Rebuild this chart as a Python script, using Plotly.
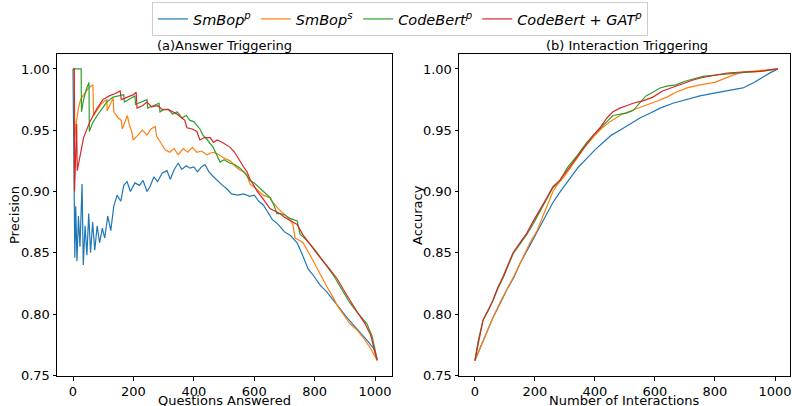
import plotly.graph_objects as go

# ---------------- Data: (a) Answer Triggering ----------------
ans_blue_x = [0, 3, 6, 9, 13, 18, 23, 30, 34, 40, 46, 52, 58, 65, 72, 80, 88, 97, 105, 115, 125, 135, 146, 158, 168, 179, 190, 205, 220, 232, 245, 255, 268, 280, 295, 311, 322, 335, 348, 360, 375, 387, 400, 412, 425, 437, 450, 465, 477, 495, 510, 525, 545, 565, 585, 600, 615, 630, 645, 660, 680, 700, 720, 742, 760, 778, 800, 818, 840, 861, 885, 907, 930, 950, 975, 995, 1007]
ans_blue_y = [1.0, 0.89, 0.846, 0.888, 0.843, 0.88, 0.855, 0.906, 0.84, 0.872, 0.848, 0.882, 0.85, 0.875, 0.852, 0.872, 0.858, 0.87, 0.862, 0.88, 0.868, 0.888, 0.897, 0.892, 0.905, 0.908, 0.9, 0.907, 0.905, 0.909, 0.9, 0.904, 0.912, 0.908, 0.915, 0.917, 0.91, 0.918, 0.923, 0.918, 0.921, 0.919, 0.92, 0.916, 0.92, 0.922, 0.916, 0.912, 0.909, 0.905, 0.902, 0.898, 0.897, 0.898, 0.896, 0.897, 0.892, 0.889, 0.883, 0.877, 0.873, 0.867, 0.864, 0.858, 0.848, 0.837, 0.83, 0.8235, 0.818, 0.811, 0.804, 0.797, 0.791, 0.785, 0.778, 0.772, 0.763]

ans_orange_x = [0, 4, 6, 10, 18, 25, 30, 40, 50, 60, 66, 68, 80, 95, 112, 113, 125, 133, 135, 150, 160, 163, 180, 186, 195, 199, 215, 230, 245, 258, 272, 277, 290, 305, 320, 335, 348, 365, 380, 395, 410, 425, 444, 460, 477, 495, 520, 535, 550, 565, 576, 586, 603, 615, 629, 652, 662, 679, 695, 718, 728, 735, 750, 762, 785, 808, 825, 841, 860, 877, 897, 917, 940, 960, 985, 1007]
ans_orange_y = [1.0, 1.0, 0.944, 0.955, 0.968, 0.975, 0.977, 0.981, 0.984, 0.986, 0.987, 0.962, 0.966, 0.972, 0.975, 0.966, 0.972, 0.976, 0.965, 0.96, 0.958, 0.951, 0.962, 0.955, 0.948, 0.942, 0.946, 0.95, 0.946, 0.951, 0.953, 0.945, 0.94, 0.934, 0.932, 0.935, 0.93, 0.935, 0.932, 0.936, 0.932, 0.933, 0.93, 0.932, 0.931, 0.928, 0.925, 0.921, 0.918, 0.916, 0.913, 0.906, 0.903, 0.9, 0.897, 0.895, 0.891, 0.886, 0.882, 0.877, 0.873, 0.862, 0.86, 0.858, 0.848, 0.837, 0.83, 0.822, 0.814, 0.806, 0.799, 0.792, 0.787, 0.781, 0.772, 0.762]

ans_green_x = [0, 27, 28, 35, 45, 53, 54, 65, 80, 97, 112, 133, 150, 168, 170, 190, 205, 207, 225, 245, 247, 265, 285, 288, 300, 315, 330, 345, 360, 375, 387, 400, 410, 420, 430, 445, 464, 475, 487, 500, 520, 535, 553, 570, 586, 600, 619, 635, 652, 665, 675, 685, 700, 718, 742, 752, 762, 785, 808, 835, 861, 890, 917, 945, 973, 990, 1007]
ans_green_y = [1.0, 1.0, 0.965, 0.975, 0.984, 0.989, 0.949, 0.956, 0.962, 0.968, 0.973, 0.977, 0.978, 0.979, 0.973, 0.976, 0.978, 0.971, 0.973, 0.975, 0.968, 0.97, 0.972, 0.965, 0.967, 0.967, 0.963, 0.965, 0.96, 0.962, 0.958, 0.957, 0.954, 0.951, 0.946, 0.942, 0.936, 0.93, 0.924, 0.926, 0.923, 0.922, 0.919, 0.915, 0.909, 0.907, 0.903, 0.899, 0.895, 0.889, 0.882, 0.882, 0.881, 0.878, 0.876, 0.865, 0.863, 0.857, 0.85, 0.841, 0.832, 0.82, 0.809, 0.8, 0.792, 0.782, 0.763]

ans_red_x = [0, 4, 5, 8, 10, 12, 14, 23, 35, 56, 66, 80, 99, 120, 140, 156, 160, 180, 200, 209, 212, 230, 245, 260, 280, 298, 315, 330, 345, 361, 370, 377, 395, 410, 420, 435, 454, 465, 477, 495, 510, 520, 535, 545, 553, 565, 576, 586, 596, 610, 629, 640, 652, 668, 685, 700, 720, 742, 760, 775, 795, 818, 845, 874, 895, 917, 940, 967, 985, 1007]
ans_red_y = [1.0, 1.0, 0.9, 0.93, 0.955, 0.955, 0.917, 0.93, 0.944, 0.957, 0.962, 0.968, 0.975, 0.978, 0.98, 0.982, 0.975, 0.977, 0.979, 0.981, 0.968, 0.97, 0.973, 0.969, 0.97, 0.9665, 0.967, 0.965, 0.963, 0.96, 0.958, 0.952, 0.951, 0.949, 0.942, 0.944, 0.944, 0.94, 0.942, 0.94, 0.938, 0.936, 0.932, 0.928, 0.924, 0.92, 0.916, 0.91, 0.906, 0.9, 0.894, 0.89, 0.886, 0.884, 0.882, 0.879, 0.876, 0.873, 0.865, 0.86, 0.853, 0.846, 0.838, 0.829, 0.82, 0.811, 0.802, 0.792, 0.783, 0.762]

# ---------------- Data: (b) Interaction Triggering ----------------
int_blue_x = [0, 17, 40, 60, 85, 107, 130, 150, 183, 207, 240, 260, 285, 317, 345, 373, 400, 427, 455, 483, 515, 550, 585, 617, 660, 707, 750, 793, 840, 893, 927, 960, 985, 1010]
int_blue_y = [0.762, 0.772, 0.786, 0.797, 0.809, 0.82, 0.83, 0.841, 0.856, 0.867, 0.881, 0.891, 0.9, 0.911, 0.92, 0.927, 0.934, 0.94, 0.946, 0.95, 0.955, 0.96, 0.964, 0.968, 0.972, 0.975, 0.978, 0.98, 0.982, 0.9845, 0.9886, 0.9935, 0.997, 1.0]

int_orange_x = [0, 17, 40, 60, 85, 107, 130, 150, 183, 207, 240, 260, 273, 300, 340, 365, 393, 420, 450, 490, 527, 555, 583, 610, 640, 670, 707, 750, 800, 830, 860, 893, 950, 1010]
int_orange_y = [0.762, 0.772, 0.785, 0.797, 0.81, 0.82, 0.831, 0.841, 0.858, 0.868, 0.887, 0.9, 0.905, 0.913, 0.927, 0.936, 0.944, 0.951, 0.957, 0.963, 0.9665, 0.969, 0.971, 0.974, 0.977, 0.981, 0.9845, 0.987, 0.989, 0.992, 0.995, 0.9975, 0.999, 1.0]

int_green_x = [0, 10, 27, 45, 60, 77, 93, 110, 127, 150, 173, 195, 217, 240, 260, 283, 310, 340, 373, 395, 417, 440, 460, 483, 505, 527, 550, 570, 593, 617, 640, 670, 700, 727, 760, 800, 840, 890, 950, 1010]
int_green_y = [0.762, 0.777, 0.795, 0.804, 0.811, 0.821, 0.829, 0.839, 0.849, 0.857, 0.865, 0.874, 0.884, 0.894, 0.903, 0.909, 0.92, 0.929, 0.94, 0.946, 0.951, 0.957, 0.962, 0.963, 0.964, 0.966, 0.972, 0.978, 0.981, 0.9845, 0.986, 0.987, 0.99, 0.992, 0.994, 0.995, 0.996, 0.997, 0.998, 1.0]

int_red_x = [0, 10, 27, 45, 60, 77, 93, 110, 127, 150, 173, 195, 217, 240, 260, 283, 310, 340, 373, 395, 417, 440, 460, 483, 505, 527, 560, 593, 625, 660, 690, 727, 760, 800, 840, 890, 950, 1010]
int_red_y = [0.762, 0.775, 0.795, 0.803, 0.811, 0.822, 0.83, 0.84, 0.85, 0.858, 0.866, 0.876, 0.885, 0.895, 0.904, 0.909, 0.918, 0.928, 0.938, 0.946, 0.952, 0.96, 0.965, 0.968, 0.97, 0.972, 0.974, 0.977, 0.982, 0.985, 0.988, 0.991, 0.993, 0.995, 0.9967, 0.9975, 0.998, 1.0]

names = ["<i>SmBop<sup>p</sup></i>", "<i>SmBop<sup>s</sup></i>",
         "<i>CodeBert<sup>p</sup></i>", "<i>CodeBert</i> + <i>GAT<sup>p</sup></i>"]
colors = ["#1f77b4", "#ff7f0e", "#2ca02c", "#d62728"]
yticks = [0.75, 0.80, 0.85, 0.90, 0.95, 1.00]
xticks = [0, 200, 400, 600, 800, 1000]

ans = [(ans_blue_x, ans_blue_y), (ans_orange_x, ans_orange_y), (ans_green_x, ans_green_y), (ans_red_x, ans_red_y)]
inter = [(int_blue_x, int_blue_y), (int_orange_x, int_orange_y), (int_green_x, int_green_y), (int_red_x, int_red_y)]

fig = go.Figure()
for i, (xs, ys) in enumerate(ans):
    fig.add_trace(go.Scatter(x=xs, y=ys, mode="lines", name=names[i],
                             line=dict(color=colors[i], width=1.2),
                             xaxis="x", yaxis="y", showlegend=True))
for i, (xs, ys) in enumerate(inter):
    fig.add_trace(go.Scatter(x=xs, y=ys, mode="lines", name=names[i],
                             line=dict(color=colors[i], width=1.2),
                             xaxis="x2", yaxis="y2", showlegend=False))

W, H = 792, 406
FONT = "DejaVu Sans"
font = dict(family=FONT, size=13, color="black")
ax_common = dict(showline=True, linecolor="black", linewidth=1, mirror=True, automargin=False,
                 ticks="outside", ticklen=3.5, tickcolor="black", showgrid=False,
                 zeroline=False, tickfont=dict(family=FONT, size=13, color="black"))


def px(x):
    return x / W


def py(y):
    return 1 - y / H


ydom = [py(376), py(54)]
L1, R1, L2, R2 = 57, 392, 459, 790


def ann(text, x, y, angle=0):
    return dict(text=text, x=px(x), y=py(y), xref="paper", yref="paper", showarrow=False,
                font=font, xanchor="center", yanchor="middle", textangle=angle)


fig.update_layout(
    width=W, height=H, margin=dict(l=0, r=0, t=0, b=0, autoexpand=False),
    plot_bgcolor="white", paper_bgcolor="white", font=font,
    xaxis=dict(domain=[px(L1), px(R1)], range=[-53, 1056], tickvals=xticks, anchor="y", **ax_common),
    yaxis=dict(domain=ydom, range=[0.7494, 1.0122], tickvals=yticks, tickformat=".2f", anchor="x", **ax_common),
    xaxis2=dict(domain=[px(L2), px(R2)], range=[-53, 1050], tickvals=xticks, anchor="y2", **ax_common),
    yaxis2=dict(domain=ydom, range=[0.7494, 1.0122], tickvals=yticks, tickformat=".2f", anchor="x2", **ax_common),
    legend=dict(orientation="h", x=px(400), xanchor="center", y=py(2), yanchor="top",
                bordercolor="#cccccc", borderwidth=1, font=dict(family=FONT, size=14.5),
                bgcolor="white", itemwidth=30, tracegroupgap=0),
    annotations=[
        ann("(a)Answer Triggering", (L1 + R1) / 2, 45),
        ann("(b) Interaction Triggering", (L2 + R2) / 2 + 2, 45),
        ann("Questions Answered", (L1 + R1) / 2, 400),
        ann("Number of Interactions", (L2 + R2) / 2, 400),
        ann("Precision", 15, (54 + 376) / 2, -90),
        ann("Accuracy", 418, (54 + 376) / 2, -90),
    ],
)

# remove the default 8px page margin so the figure fills the 792x406 window exactly
fig.write_html("out.html", config={"displayModeBar": False},
               post_script="document.body.style.margin='0px';")
